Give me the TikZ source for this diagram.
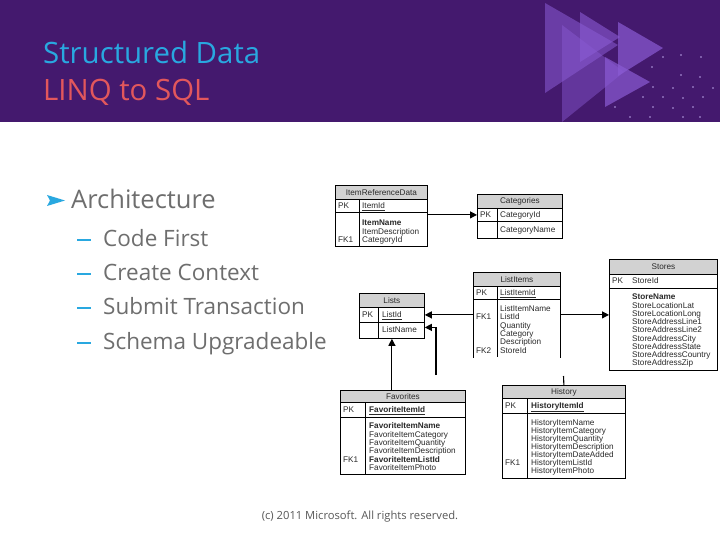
\documentclass[tikz,border=0pt]{standalone}
\usepackage{fontspec}
\setmainfont{Open Sans}
\newfontfamily\dfont{Liberation Sans}
\usetikzlibrary{arrows.meta}
\definecolor{band}{HTML}{44196E}
\definecolor{tri}{HTML}{8A5BD4}
\definecolor{tcyan}{HTML}{29A8E0}
\definecolor{tcoral}{HTML}{E2575C}
\definecolor{bodygray}{HTML}{6E6E6E}
\definecolor{hdgray}{HTML}{D2D2D2}
\definecolor{dtext}{HTML}{2A2A2A}
\definecolor{dotc}{HTML}{B8A2E6}
\tikzset{
  tb/.style={draw=black, line width=0.8pt, inner sep=0pt, anchor=north west},
  hd/.style={tb, fill=hdgray},
  dt/.style={font=\dfont\fontsize{8.2}{8.3}\selectfont, text=dtext, inner sep=0pt, anchor=base west},
  dh/.style={font=\dfont\fontsize{8.2}{8.3}\selectfont, text=dtext, inner sep=0pt},
  arr/.style={line width=1.1pt, -{Triangle[length=7pt,width=7pt]}},
  lnk/.style={line width=1.1pt},
  sub/.style={font=\fontsize{22.5}{27}\selectfont, text=bodygray, inner sep=0pt, anchor=base west},
  dsh/.style={draw=tcyan, line width=2pt}
}
\begin{document}
\begin{tikzpicture}[x=1pt,y=-1pt]
\useasboundingbox (0,0) rectangle (720,540);
\fill[white] (0,0) rectangle (720,540);
% header band
\fill[band] (0,0) rectangle (720,122);
\begin{scope}
\clip (0,0) rectangle (720,122);
\fill[tri, opacity=0.55] (545,3) -- (545,93) -- (618,45) -- cycle;
\fill[tri, opacity=0.45] (562,25) -- (562,122) -- (624,72) -- cycle;
\fill[tri, opacity=0.6] (580,12) -- (580,62) -- (620,37) -- cycle;
\fill[tri, opacity=0.7] (618,22) -- (618,76) -- (663,48) -- cycle;
\fill[tri, opacity=0.7] (605,57) -- (605,107) -- (650,82) -- cycle;
\foreach \p in {(663,57),(681,55),(701,57),(652,67),(681,75),(700,77),(653,87),(673,88),(693,87),(713,88),(643,97),(663,97),(683,98),(703,97),(653,107),(673,108),(693,107),(615,107),(630,117),(650,117),(683,117),(700,117)}
  \fill[dotc] \p circle (0.9);
\end{scope}
% titles
\node[font=\fontsize{29.4}{34}\selectfont, text=tcyan, inner sep=0pt, anchor=base west] (t1) at (43,64) {Structured Data};
\node[font=\fontsize{29.4}{34}\selectfont, text=tcoral, inner sep=0pt, anchor=base west] (t2) at (43,101) {LINQ to SQL};
% bullets
\fill[tcyan] (47,195) -- (65,200.5) -- (47,206) -- (50,200.5) -- cycle;
\node[font=\fontsize{25.5}{30}\selectfont, text=bodygray, inner sep=0pt, anchor=base west] (arch) at (71,209) {Architecture};
\draw[dsh] (77,239.5) -- (91,239.5);
\node[sub] (s1) at (103,246) {Code First};
\draw[dsh] (77,273.5) -- (91,273.5);
\node[sub] (s2) at (103,280) {Create Context};
\draw[dsh] (77,308) -- (91,308);
\node[sub] (s3) at (103,314.5) {Submit Transaction};
\draw[dsh] (77,342.5) -- (91,342.5);
\node[sub] (s4) at (103,349) {Schema Upgradeable};
% footer
\node[font=\fontsize{11.2}{13}\selectfont, text=bodygray!80!black, inner sep=0pt, anchor=base] (foot) at (360,519) {(c) 2011 Microsoft. All rights reserved.};

% ===== ItemReferenceData =====
\node[hd, minimum width=92pt, minimum height=14pt] (irdH) at (335,185) {};
\node[dh] (irdT) at (irdH.center) {ItemReferenceData};
\node[tb, minimum width=92pt, minimum height=13pt] (irdPK) at (335,199) {};
\node[tb, minimum width=92pt, minimum height=34pt] (irdF) at (335,212) {};
\draw[line width=0.8pt] (359,199) -- (359,246);
\node[dt] (irdk1) at (338,208.3) {PK};
\node[dt] (irdv1) at (362,208.3) {\underline{ItemId}};
\node[dt] (irdv2) at (362,225.8) {\bfseries ItemName};
\node[dt] (irdv3) at (362,234.1) {ItemDescription};
\node[dt] (irdk4) at (338,242.4) {FK1};
\node[dt] (irdv4) at (362,242.4) {CategoryId};

% ===== Categories =====
\node[hd, minimum width=85pt, minimum height=14pt] (catH) at (477,194) {};
\node[dh] (catT) at (catH.center) {Categories};
\node[tb, minimum width=85pt, minimum height=13pt] (catPK) at (477,208) {};
\node[tb, minimum width=85pt, minimum height=17pt] (catF) at (477,221) {};
\draw[line width=0.8pt] (497,208) -- (497,238);
\node[dt] (catk1) at (480,217.3) {PK};
\node[dt] (catv1) at (500,217.3) {CategoryId};
\node[dt] (catv2) at (500,232.3) {CategoryName};

% ===== Lists =====
\node[hd, minimum width=65pt, minimum height=14pt] (lsH) at (359,293) {};
\node[dh] (lsT) at (lsH.center) {Lists};
\node[tb, minimum width=65pt, minimum height=15pt] (lsPK) at (359,307) {};
\node[tb, minimum width=65pt, minimum height=16pt] (lsR) at (359,322) {};
\draw[line width=0.8pt] (378,307) -- (378,338);
\node[dt] (lsk1) at (362,317.3) {PK};
\node[dt] (lsv1) at (382,317.3) {\underline{ListId}};
\node[dt] (lsv2) at (382,332.8) {ListName};

% ===== ListItems =====
\node[hd, minimum width=87pt, minimum height=14pt] (liH) at (473,272) {};
\node[dh] (liT) at (liH.center) {ListItems};
\node[tb, minimum width=87pt, minimum height=13pt] (liPK) at (473,286) {};
\node[tb, draw=none, minimum width=87pt, minimum height=58pt] (liF) at (473,299) {};
\draw[line width=0.8pt] (liF.north west) -- (liF.south west) (liF.north east) -- (liF.south east);
\draw[line width=0.8pt] (497,286) -- (497,357);
\node[dt] (lik1) at (476,295.3) {PK};
\node[dt] (liv1) at (500,295.3) {\underline{ListItemId}};
\node[dt] (liv2) at (500,311.5) {ListItemName};
\node[dt] (lik3) at (476,319.8) {FK1};
\node[dt] (liv3) at (500,319.8) {ListId};
\node[dt] (liv4) at (500,328.1) {Quantity};
\node[dt] (liv5) at (500,336.4) {Category};
\node[dt] (liv6) at (500,344.7) {Description};
\node[dt] (lik7) at (476,353) {FK2};
\node[dt] (liv7) at (500,353) {StoreId};

% ===== Stores =====
\node[hd, minimum width=108pt, minimum height=15pt] (stH) at (609,259) {};
\node[dh] (stT) at (stH.center) {Stores};
\node[tb, minimum width=108pt, minimum height=14pt] (stPK) at (609,274) {};
\node[tb, minimum width=108pt, minimum height=82pt] (stF) at (609,288) {};
\node[dt] (stk1) at (612,283.8) {PK};
\node[dt] (stv1) at (632,283.8) {StoreId};
\node[dt] (stv2) at (632,299.8) {\bfseries StoreName};
\node[dt] (stv3) at (632,308.05) {StoreLocationLat};
\node[dt] (stv4) at (632,316.3) {StoreLocationLong};
\node[dt] (stv5) at (632,324.55) {StoreAddressLine1};
\node[dt] (stv6) at (632,332.8) {StoreAddressLine2};
\node[dt] (stv7) at (632,341.05) {StoreAddressCity};
\node[dt] (stv8) at (632,349.3) {StoreAddressState};
\node[dt] (stv9) at (632,357.55) {StoreAddressCountry};
\node[dt] (stv10) at (632,365.8) {StoreAddressZip};

% ===== Favorites =====
\node[hd, minimum width=125pt, minimum height=12pt] (fvH) at (340,390) {};
\node[dh] (fvT) at (fvH.center) {Favorites};
\node[tb, minimum width=125pt, minimum height=15pt] (fvPK) at (340,402) {};
\node[tb, minimum width=125pt, minimum height=57pt] (fvF) at (340,417) {};
\draw[line width=0.8pt] (365,402) -- (365,474);
\node[dt] (fvk1) at (343,412.3) {PK};
\node[dt] (fvv1) at (369,412.3) {\bfseries\underline{FavoriteItemId}};
\node[dt] (fvv2) at (369,428.8) {\bfseries FavoriteItemName};
\node[dt] (fvv3) at (369,437.1) {FavoriteItemCategory};
\node[dt] (fvv4) at (369,445.4) {FavoriteItemQuantity};
\node[dt] (fvv5) at (369,453.7) {FavoriteItemDescription};
\node[dt] (fvk6) at (343,462) {FK1};
\node[dt] (fvv6) at (369,462) {\bfseries FavoriteItemListId};
\node[dt] (fvv7) at (369,470.3) {FavoriteItemPhoto};

% ===== History =====
\node[hd, minimum width=123pt, minimum height=13pt] (hsH) at (502,385) {};
\node[dh] (hsT) at (hsH.center) {History};
\node[tb, minimum width=123pt, minimum height=15pt] (hsPK) at (502,398) {};
\node[tb, minimum width=123pt, minimum height=65pt] (hsF) at (502,413) {};
\draw[line width=0.8pt] (527,398) -- (527,478);
\node[dt] (hsk1) at (505,408.3) {PK};
\node[dt] (hsv1) at (531,408.3) {\bfseries\underline{HistoryItemId}};
\node[dt] (hsv2) at (531,425.8) {HistoryItemName};
\node[dt] (hsv3) at (531,433.8) {HistoryItemCategory};
\node[dt] (hsv4) at (531,441.8) {HistoryItemQuantity};
\node[dt] (hsv5) at (531,449.8) {HistoryItemDescription};
\node[dt] (hsv6) at (531,457.8) {HistoryItemDateAdded};
\node[dt] (hsk7) at (505,465.8) {FK1};
\node[dt] (hsv7) at (531,465.8) {HistoryItemListId};
\node[dt] (hsv8) at (531,473.8) {HistoryItemPhoto};

% ===== connectors =====
\draw[arr] (irdF.east |- catPK) -- (catPK.west);
\draw[arr] (liF.west |- lsPK) -- (lsPK.east);
\draw[arr] (liF.east |- lsPK) -- (stF.west |- lsPK);
\draw[arr] (lsR.south |- fvH.north) -- (lsR.south);
\coordinate (vEnd) at (436,375);
\draw[arr] (vEnd) |- ([yshift=3pt]lsR.east);
\coordinate (hEnd) at (563.5,376);
\draw[lnk] (hsH.north) -- (hEnd);
\end{tikzpicture}
\end{document}
